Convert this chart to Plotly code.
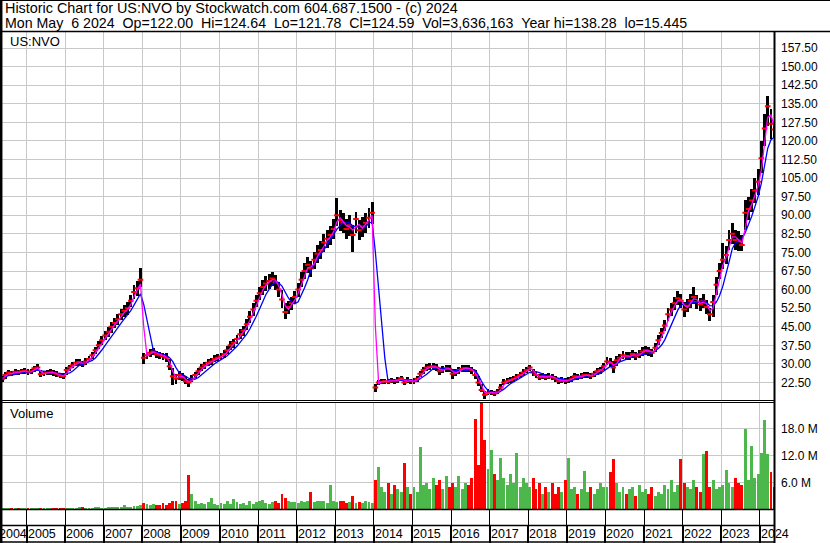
import plotly.graph_objects as go
import pandas as pd

# ---------------- data (monthly) ----------------
close = [
    24.0, 25.5, 26.5, 26.0, 26.8, 26.5, 27.0, 27.2,                      # 2004 May-Dec
    26.5, 27.0, 28.2, 28.5, 25.8, 26.2, 26.5, 26.8, 26.3, 26.0, 25.2, 25.0,  # 2005
    27.5, 28.5, 29.5, 30.5, 30.8, 29.8, 31.0, 32.0, 33.5, 35.5, 37.5, 39.5,  # 2006
    41.5, 43.0, 45.0, 46.5, 48.0, 50.0, 51.5, 52.5, 55.5, 59.0, 60.5, 64.0,  # 2007
    32.5, 33.5, 34.5, 35.0, 33.8, 33.5, 33.0, 32.5, 29.0, 25.0, 24.0, 25.5,  # 2008
    24.5, 23.0, 22.5, 24.0, 25.5, 27.0, 28.5, 29.5, 30.5, 31.0, 32.0, 32.5,  # 2009
    33.0, 34.0, 35.5, 37.5, 38.5, 40.0, 42.0, 43.5, 46.0, 49.0, 52.0, 55.5,  # 2010
    58.5, 61.0, 62.5, 63.5, 64.5, 63.0, 60.0, 56.0, 51.0, 53.0, 54.5, 57.0,  # 2011
    60.0, 64.0, 67.5, 70.0, 68.5, 72.0, 74.5, 76.0, 79.0, 80.5, 82.0, 84.5,  # 2012
    90.0, 88.0, 87.0, 84.5, 86.0, 82.0, 88.5, 84.0, 85.5, 87.0, 89.0, 91.0,  # 2013
    20.5, 22.5, 22.8, 23.0, 22.8, 23.3, 23.0, 23.5, 24.2, 22.5, 23.5, 23.0,  # 2014
    23.0, 24.0, 26.0, 27.5, 28.5, 28.8, 29.0, 28.5, 27.0, 27.8, 28.2, 28.0,  # 2015
    26.0, 26.5, 27.5, 28.0, 28.3, 28.0, 27.5, 25.5, 22.5, 19.5, 17.5, 18.5,  # 2016
    18.5, 18.0, 18.8, 20.5, 22.5, 23.0, 23.5, 24.0, 24.8, 25.5, 26.5, 27.5,  # 2017
    28.5, 26.5, 25.5, 24.5, 25.0, 24.5, 25.0, 24.5, 24.0, 23.0, 23.5, 23.0,  # 2018
    23.5, 24.0, 25.0, 24.5, 25.0, 25.5, 25.5, 25.0, 26.0, 27.0, 27.5, 29.0,  # 2019
    31.0, 30.5, 28.5, 31.5, 32.5, 33.5, 33.0, 33.0, 34.0, 33.0, 34.0, 35.0,  # 2020
    35.5, 35.0, 34.5, 36.5, 39.5, 42.5, 45.5, 50.0, 52.0, 54.5, 56.5, 55.5,  # 2021
    52.0, 53.5, 55.5, 57.0, 55.0, 54.0, 55.5, 53.0, 50.0, 55.0, 62.0, 67.5,  # 2022
    72.0, 74.0, 80.0, 82.5, 80.0, 79.5, 78.0, 91.0, 92.5, 96.0, 100.0, 103.5,  # 2023
    113.0, 125.0, 134.0, 127.0, 124.6,                                   # 2024 Jan-May
]

high = [
    25.0, 26.6, 27.6, 27.2, 27.8, 27.5, 28.0, 28.3,
    27.8, 28.0, 29.3, 29.8, 27.5, 27.2, 27.6, 27.8, 27.4, 27.0, 26.3, 26.4,
    28.6, 29.6, 30.6, 31.8, 32.0, 31.0, 32.2, 33.3, 34.9, 37.0, 39.1, 41.2,
    43.3, 44.9, 47.0, 48.6, 50.1, 52.2, 53.8, 55.0, 58.0, 61.8, 63.5, 68.8,
    34.5, 35.0, 36.2, 36.5, 35.3, 35.0, 34.6, 34.2, 32.0, 28.5, 26.0, 27.0,
    26.3, 25.0, 24.0, 25.5, 26.8, 28.3, 29.8, 30.8, 31.9, 32.4, 33.4, 34.0,
    34.5, 35.5, 37.1, 39.2, 40.2, 41.8, 43.9, 45.5, 48.1, 51.2, 54.4, 58.0,
    61.2, 63.8, 65.3, 66.4, 67.0, 65.8, 63.0, 60.0, 54.5, 55.5, 57.0, 59.6,
    62.8, 67.0, 70.6, 73.2, 71.6, 75.3, 77.9, 79.5, 82.6, 84.2, 85.8, 88.4,
    97.0, 92.0, 91.0, 88.4, 90.0, 86.0, 91.5, 88.0, 89.4, 91.0, 93.0, 95.5,
    22.0, 23.6, 23.9, 24.1, 23.9, 24.4, 24.1, 24.6, 25.2, 23.8, 24.6, 24.1,
    24.2, 25.2, 27.3, 28.9, 29.9, 30.2, 30.5, 30.0, 28.5, 29.2, 29.6, 29.4,
    27.8, 27.8, 28.9, 29.4, 29.7, 29.4, 28.9, 27.5, 25.0, 22.0, 19.0, 19.8,
    19.6, 19.2, 20.0, 21.8, 23.8, 24.2, 24.7, 25.2, 26.0, 26.8, 27.8, 28.8,
    29.6, 28.0, 26.8, 25.8, 26.3, 25.8, 26.3, 25.8, 25.2, 24.3, 24.7, 24.2,
    24.7, 25.2, 26.3, 25.8, 26.3, 26.8, 26.8, 26.3, 27.3, 28.4, 28.9, 30.5,
    32.6, 32.3, 31.0, 33.1, 34.1, 35.2, 34.7, 34.7, 35.7, 34.7, 35.7, 36.8,
    37.3, 36.8, 36.2, 38.3, 41.5, 44.6, 47.8, 52.5, 54.6, 57.2, 59.5, 58.3,
    55.0, 56.2, 58.3, 60.9, 57.8, 56.7, 58.3, 55.7, 52.5, 58.0, 65.0, 70.9,
    78.7, 77.7, 84.0, 86.8, 84.0, 83.5, 82.0, 96.0, 97.2, 100.8, 105.0, 108.7,
    120.0, 131.0, 138.3, 133.0, 126.5,
]

low = [
    22.8, 24.0, 25.3, 25.0, 25.6, 25.4, 25.9, 26.0,
    25.5, 25.9, 26.8, 27.2, 24.6, 25.1, 25.4, 25.7, 25.2, 24.8, 24.2, 24.0,
    25.6, 27.2, 28.3, 29.2, 29.3, 28.6, 29.6, 30.7, 32.1, 34.0, 35.9, 37.8,
    39.6, 41.0, 42.6, 44.4, 45.8, 47.6, 49.0, 49.8, 52.9, 56.2, 57.5, 61.0,
    30.0, 32.0, 32.8, 33.4, 32.3, 32.0, 31.4, 30.8, 27.5, 21.5, 21.8, 23.5,
    23.0, 21.8, 20.6, 22.5, 24.2, 25.6, 27.0, 28.1, 29.1, 29.6, 30.6, 31.0,
    31.5, 32.5, 33.9, 35.8, 36.6, 38.1, 40.0, 41.4, 43.8, 46.7, 49.5, 52.8,
    55.6, 58.0, 59.5, 60.4, 61.5, 60.0, 57.0, 52.5, 48.0, 50.0, 51.8, 54.2,
    57.0, 61.0, 64.2, 66.6, 65.2, 68.5, 70.9, 72.3, 75.1, 76.6, 78.0, 80.4,
    85.6, 83.7, 82.8, 80.4, 81.8, 75.0, 83.0, 80.0, 81.4, 82.8, 84.7, 86.6,
    18.5, 21.4, 21.7, 21.9, 21.7, 22.2, 21.9, 22.4, 23.0, 21.3, 22.4, 21.9,
    21.8, 22.8, 24.7, 26.1, 27.1, 27.4, 27.6, 27.0, 25.6, 26.4, 26.8, 26.6,
    24.0, 25.2, 26.1, 26.6, 26.9, 26.6, 26.1, 24.0, 21.0, 18.5, 16.0, 17.3,
    17.5, 17.2, 17.8, 19.4, 21.3, 21.8, 22.3, 22.8, 23.6, 24.2, 25.2, 26.2,
    27.0, 25.2, 24.2, 23.3, 23.8, 23.3, 23.8, 23.3, 22.8, 21.8, 22.3, 21.8,
    22.3, 22.8, 23.8, 23.3, 23.8, 24.2, 24.2, 23.8, 24.7, 25.7, 26.1, 27.6,
    29.5, 28.8, 26.5, 29.2, 30.9, 31.8, 31.4, 31.4, 32.3, 31.4, 32.3, 33.3,
    33.7, 33.3, 32.8, 34.7, 37.5, 40.4, 43.2, 47.5, 49.4, 51.8, 53.6, 52.7,
    49.0, 50.8, 52.7, 54.0, 52.2, 51.3, 52.7, 50.3, 47.5, 49.0, 58.0, 64.1,
    68.4, 70.3, 76.0, 78.4, 76.0, 75.5, 75.5, 84.0, 87.9, 91.2, 95.0, 98.3,
    107.0, 118.0, 126.0, 121.0, 121.8,
]

ma_fast = [
    24.0, 25.0, 26.0, 26.2, 26.4, 26.6, 26.8, 27.1,
    26.9, 26.8, 27.6, 28.3, 27.0, 26.0, 26.3, 26.6, 26.5, 26.1, 25.6, 25.1,
    26.2, 28.0, 29.0, 30.0, 30.6, 30.3, 30.4, 31.5, 32.7, 34.5, 36.5, 38.5,
    40.5, 42.3, 44.0, 45.8, 47.3, 49.0, 50.8, 52.0, 54.0, 57.2, 59.8, 62.3,
    45.0, 33.2, 34.0, 34.8, 34.4, 33.7, 33.3, 32.8, 30.8, 27.0, 24.5, 24.8,
    25.0, 23.8, 22.8, 23.2, 24.8, 26.2, 27.8, 29.0, 30.0, 30.8, 31.5, 32.2,
    32.8, 33.5, 34.8, 36.5, 38.0, 39.3, 41.0, 42.8, 44.8, 47.5, 50.5, 53.8,
    57.0, 59.8, 61.8, 63.0, 64.0, 63.8, 61.5, 58.0, 53.5, 52.0, 53.8, 55.8,
    58.5, 62.0, 65.8, 68.8, 69.2, 70.3, 73.3, 75.3, 77.5, 79.8, 81.3, 83.3,
    87.3, 89.0, 87.5, 85.8, 85.3, 84.0, 85.3, 86.3, 84.8, 86.3, 88.0, 90.0,
    45.0, 22.0, 22.7, 22.9, 22.9, 23.1, 23.2, 23.3, 23.8, 23.4, 23.0, 23.3,
    23.0, 23.5, 25.0, 26.8, 28.0, 28.7, 28.9, 28.8, 27.8, 27.4, 28.0, 28.1,
    27.0, 26.3, 27.0, 27.8, 28.2, 28.2, 27.8, 26.5, 24.0, 21.0, 18.5, 18.0,
    18.5, 18.3, 18.4, 19.6, 21.5, 22.8, 23.3, 23.8, 24.4, 25.2, 26.0, 27.0,
    28.0, 27.5, 26.0, 25.0, 24.8, 24.8, 24.8, 24.8, 24.3, 23.5, 23.3, 23.3,
    23.3, 23.8, 24.5, 24.8, 24.8, 25.3, 25.5, 25.3, 25.5, 26.5, 27.3, 28.3,
    30.0, 30.8, 29.5, 30.0, 32.0, 33.0, 33.3, 33.0, 33.5, 33.5, 33.5, 34.5,
    35.3, 35.3, 34.8, 35.5, 38.0, 41.0, 44.0, 47.8, 51.0, 53.3, 55.5, 56.0,
    53.8, 52.8, 54.5, 56.3, 56.0, 54.5, 54.8, 54.3, 51.5, 52.5, 58.5, 64.8,
    69.8, 73.0, 77.0, 81.3, 81.3, 79.8, 78.8, 84.5, 91.8, 94.3, 98.0, 101.8,
    108.3, 119.0, 129.5, 130.5, 125.8,
]

ma_slow = [
    24.0, 24.8, 25.3, 25.5, 25.8, 26.3, 26.6, 26.7,
    26.8, 26.8, 27.2, 27.5, 27.2, 27.1, 27.0, 26.8, 26.3, 26.4, 26.2, 25.9,
    26.0, 26.4, 27.1, 28.2, 29.4, 29.8, 30.3, 30.8, 31.4, 32.4, 33.9, 35.6,
    37.5, 39.4, 41.3, 43.1, 44.8, 46.5, 48.2, 49.7, 51.5, 53.7, 55.8, 58.3,
    54.0, 47.5, 41.0, 35.5, 34.8, 34.3, 33.8, 33.5, 32.5, 31.0, 28.5, 26.5,
    25.8, 25.0, 24.2, 23.8, 23.9, 24.5, 25.6, 26.9, 28.1, 29.3, 30.1, 30.9,
    31.6, 32.5, 33.3, 34.5, 35.7, 37.1, 38.7, 40.3, 42.0, 44.1, 46.5, 49.2,
    52.2, 55.2, 57.9, 60.1, 62.0, 63.0, 62.7, 61.4, 58.9, 56.6, 54.9, 54.3,
    55.1, 57.7, 60.6, 64.0, 68.0, 70.4, 72.5, 74.2, 76.0, 78.0, 80.0, 82.0,
    84.3, 85.8, 87.0, 86.8, 87.1, 85.5, 85.6, 85.0, 85.2, 85.4, 86.8, 87.4,
    75.0, 60.0, 46.0, 32.0, 23.0, 22.9, 23.0, 23.1, 23.4, 23.3, 23.3, 23.3,
    23.3, 23.4, 24.0, 24.8, 25.8, 26.9, 28.0, 28.5, 28.4, 28.2, 28.1, 27.9,
    27.5, 27.3, 27.3, 27.2, 27.3, 27.7, 27.9, 27.5, 25.5, 23.0, 20.8, 19.3,
    18.6, 18.3, 18.5, 19.0, 19.8, 20.9, 22.0, 22.7, 23.5, 24.1, 24.9, 25.7,
    26.6, 26.9, 26.9, 26.5, 26.0, 25.2, 24.9, 24.7, 24.6, 24.2, 24.0, 23.6,
    23.4, 23.4, 23.8, 24.1, 24.4, 24.8, 25.1, 25.3, 25.4, 25.8, 26.2, 27.0,
    28.1, 29.0, 29.3, 30.1, 30.8, 31.3, 31.8, 32.7, 33.2, 33.3, 33.4, 33.6,
    33.9, 34.3, 34.8, 35.3, 36.2, 37.6, 39.7, 42.8, 45.9, 48.9, 51.7, 53.7,
    54.3, 54.5, 54.6, 54.7, 54.6, 55.0, 55.5, 54.8, 53.5, 53.4, 54.9, 57.5,
    61.3, 66.1, 71.1, 76.5, 78.8, 80.0, 80.5, 83.0, 86.0, 89.5, 93.5, 97.5,
    103.0, 110.0, 117.0, 120.5, 121.5,
]

volume_m = [
    0.3, 0.25, 0.3, 0.2, 0.25, 0.3, 0.2, 0.3,
    0.3, 0.25, 0.3, 0.35, 0.3, 0.25, 0.3, 0.2, 0.25, 0.3, 0.35, 0.3,
    0.3, 0.35, 0.4, 0.3, 0.45, 0.5, 0.35, 0.4, 0.3, 0.45, 0.5, 0.4,
    0.4, 0.5, 0.45, 0.5, 0.6, 0.5, 0.9, 0.5, 0.6, 0.7, 0.8, 0.9,
    1.5, 1.2, 1.0, 1.3, 0.9, 1.1, 1.4, 1.0, 1.5, 2.0, 1.8, 1.3,
    1.5, 1.8, 7.7, 3.5, 2.0, 1.3, 1.5, 1.2, 1.6, 2.6, 1.3, 1.1,
    1.4, 1.2, 1.8, 1.3, 2.4, 1.6, 1.2, 1.5, 1.0, 1.8, 1.3, 1.6,
    1.8, 2.2, 1.5, 1.3, 1.6, 2.0, 1.5, 3.4, 2.5, 2.0, 1.7, 1.6,
    1.5, 2.0, 1.6, 1.8, 4.0, 1.7, 2.0, 2.0, 1.8, 1.5, 5.5, 2.0,
    1.6, 1.8, 2.0, 1.5, 1.7, 3.0, 1.5, 1.6, 1.4, 1.8, 1.6, 1.5,
    6.5, 9.4, 5.0, 4.0, 6.0, 3.5, 5.5, 4.5, 4.0, 10.5, 5.0, 3.5,
    5.0, 4.0, 13.9, 5.5, 6.0, 4.5, 7.0, 5.5, 6.5, 4.5, 7.5, 5.0,
    6.0, 5.0, 7.5, 4.5, 6.0, 5.5, 7.0, 20.3, 10.0, 24.0, 15.6, 9.0,
    13.4, 8.0, 6.5, 11.5, 7.0, 5.5, 8.0, 6.0, 12.6, 5.0, 7.0, 6.0,
    5.0, 7.0, 4.5, 6.0, 3.5, 5.0, 4.0, 6.0, 3.5, 5.0, 4.0, 6.5,
    11.5, 4.5, 5.0, 3.5, 4.5, 8.6, 4.0, 5.0, 3.5, 4.5, 6.0, 5.0,
    5.0, 8.3, 11.3, 6.0, 4.0, 5.0, 3.5, 4.5, 5.0, 3.0, 5.5, 4.0,
    4.5, 3.5, 5.0, 3.0, 4.0, 3.5, 5.5, 4.5, 6.5, 4.0, 5.5, 11.3,
    6.0, 5.0, 4.5, 6.5, 5.0, 4.0, 12.5, 13.0, 5.0, 6.5, 4.5, 5.0,
    5.5, 8.9, 6.0, 5.0, 7.0, 6.0, 5.5, 18.1, 6.5, 14.3, 7.0, 8.0,
    12.6, 20.0, 12.5, 8.3, 5.0,
]

year_labels = ["2004", "2005", "2006", "2007", "2008", "2009", "2010", "2011",
               "2012", "2013", "2014", "2015", "2016", "2017", "2018", "2019",
               "2020", "2021", "2022", "2023", "2024"]
price_ticks = [22.5, 30.0, 37.5, 45.0, 52.5, 60.0, 67.5, 75.0, 82.5, 90.0,
               97.5, 105.0, 112.5, 120.0, 127.5, 135.0, 142.5, 150.0, 157.5]
volume_ticks = [6, 12, 18]
volume_tick_labels = ["6.0 M", "12.0 M", "18.0 M"]

header_1 = "Historic Chart for US:NVO by Stockwatch.com 604.687.1500 - (c) 2024"
header_2 = ("Mon May  6 2024  Op=122.00  Hi=124.64  Lo=121.78  Cl=124.59  "
            "Vol=3,636,163  Year hi=138.28  lo=15.445")

n = len(close)
assert all(len(a) == n for a in (high, low, ma_fast, ma_slow, volume_m))

dates = pd.date_range("2004-05-01", periods=n, freq="MS") + pd.Timedelta(days=14)

# ---------------- geometry helpers ----------------
W, H = 830, 543
ML, MR, MT, MB = 2, 55, 32, 0
PW = W - ML - MR
PH = H - MT - MB


def px(x):
    return (x - ML) / PW


def py(y):
    return (H - MB - y) / PH


FONT = "Liberation Sans, Arial, sans-serif"
MONTH_MS = 30.44 * 24 * 3600 * 1000
GRID = "#C8C8C8"
GREEN = "#4CB84C"
RED = "#FF0000"

up = [True] + [close[i] >= close[i - 1] for i in range(1, n)]
vol_colors = [GREEN if u else RED for u in up]

fig = go.Figure()

# price range bars
fig.add_trace(go.Bar(
    x=dates, y=[h - l for h, l in zip(high, low)], base=low,
    width=0.9 * MONTH_MS, marker=dict(color="black", line=dict(width=0)),
    xaxis="x", yaxis="y", hoverinfo="skip", showlegend=False))
# close ticks
fig.add_trace(go.Scatter(
    x=dates, y=close, mode="markers",
    marker=dict(symbol="line-ew", size=4, line=dict(color=RED, width=2)),
    xaxis="x", yaxis="y", hoverinfo="skip", showlegend=False))
# slow MA (blue)
fig.add_trace(go.Scatter(
    x=dates, y=ma_slow, mode="lines", line=dict(color="#0000FF", width=1.3),
    xaxis="x", yaxis="y", hoverinfo="skip", showlegend=False))
# fast MA (magenta)
fig.add_trace(go.Scatter(
    x=dates, y=ma_fast, mode="lines", line=dict(color="#FF00FF", width=1.3),
    xaxis="x", yaxis="y", hoverinfo="skip", showlegend=False))
# volume
fig.add_trace(go.Bar(
    x=dates, y=volume_m, width=0.9 * MONTH_MS,
    marker=dict(color=vol_colors, line=dict(width=0)),
    xaxis="x2", yaxis="y2", hoverinfo="skip", showlegend=False))
# invisible anchors for the date-band strips
for ax in ("3", "4"):
    fig.add_trace(go.Scatter(
        x=[dates[0]], y=[0.5], mode="markers", marker=dict(opacity=0),
        xaxis="x" + ax, yaxis="y" + ax, hoverinfo="skip", showlegend=False))

x_range = ["2004-05-14", "2024-05-23"]
common_x = dict(type="date", tick0="2005-01-01", dtick="M12", showticklabels=False,
                ticks="", showline=False, zeroline=False, fixedrange=True)

fig.update_layout(
    width=W, height=H,
    margin=dict(l=ML, r=MR, t=MT, b=MB, pad=0),
    paper_bgcolor="white", plot_bgcolor="white",
    font=dict(family=FONT, size=12, color="black"),
    showlegend=False, bargap=0,
    xaxis=dict(domain=[0, 1], range=x_range, anchor="y", showgrid=True,
               gridcolor=GRID, gridwidth=1, **common_x),
    xaxis2=dict(domain=[0, 1], range=x_range, anchor="y2", matches="x",
                showgrid=True, gridcolor=GRID, gridwidth=1, **common_x),
    xaxis3=dict(domain=[0, 1], range=x_range, anchor="y3", matches="x",
                showgrid=True, gridcolor="black", gridwidth=1, **common_x),
    xaxis4=dict(domain=[0, 1], range=x_range, anchor="y4", matches="x",
                showgrid=True, gridcolor="black", gridwidth=1.5, **common_x),
    yaxis=dict(domain=[py(400.5), 1], range=[15.22, 164.0], anchor="x",
               side="right", tickvals=price_ticks, tickformat=".2f",
               showgrid=True, gridcolor=GRID, gridwidth=1, ticks="",
               showline=False, zeroline=False, fixedrange=True,
               tickfont=dict(family=FONT, size=12, color="black"),
               ticklabelstandoff=5),
    yaxis2=dict(domain=[py(509.5), py(403)], range=[0, 23.8], anchor="x2",
                side="right", tickvals=volume_ticks, ticktext=volume_tick_labels,
                showgrid=True, gridcolor=GRID, gridwidth=1, ticks="",
                showline=False, zeroline=False, fixedrange=True,
                tickfont=dict(family=FONT, size=12, color="black"),
                ticklabelstandoff=5),
    yaxis3=dict(domain=[py(525.5), py(509.5)], range=[0, 1], anchor="x3",
                visible=False, fixedrange=True),
    yaxis4=dict(domain=[0, py(525.5)], range=[0, 1], anchor="x4",
                visible=False, fixedrange=True),
)

# ---------------- frame lines ----------------
def hline(y, x0, x1, w=1.0):
    fig.add_shape(type="line", xref="paper", yref="paper",
                  x0=px(x0), x1=px(x1), y0=py(y), y1=py(y),
                  line=dict(color="black", width=w), layer="above")


def vline(x, y0, y1, w=1.0):
    fig.add_shape(type="line", xref="paper", yref="paper",
                  x0=px(x), x1=px(x), y0=py(y0), y1=py(y1),
                  line=dict(color="black", width=w), layer="above")


hline(0.5, 0, 830, 1)
hline(31.5, 0, 830, 1.5)
hline(400.5, 0, 775, 1)
hline(402.5, 0, 775, 1)
hline(509.5, 0, 775, 1.5)
hline(525.5, 0, 775, 1.5)
hline(542, 0, 775, 1.5)
vline(1.2, 0, 543, 2.5)
vline(774.5, 31, 543, 2)

# ---------------- texts ----------------
def label(text, x, y, size=13.0, anchor="left"):
    fig.add_annotation(text=text, xref="paper", yref="paper", x=px(x), y=py(y),
                       xanchor=anchor, yanchor="middle", showarrow=False,
                       font=dict(family=FONT, size=size, color="black"))


label(header_1, 3, 8.5, 14.4)
label(header_2.replace("  ", "\u00a0\u00a0"), 3, 23, 14.2)
label("US:NVO", 8, 41.5)
label("Volume", 8, 413.5)

for yl in year_labels:
    if yl == year_labels[0]:
        fig.add_annotation(text=yl, xref="x", yref="paper",
                           x=f"{int(yl) + 1}-01-01", y=py(534), xanchor="right",
                           yanchor="middle", showarrow=False, xshift=2,
                           font=dict(family=FONT, size=12.5, color="black"))
    else:
        fig.add_annotation(text=yl, xref="x", yref="paper",
                           x=f"{yl}-01-01", y=py(534), xanchor="left",
                           yanchor="middle", showarrow=False, xshift=-1,
                           font=dict(family=FONT, size=12.5, color="black"))

fig.write_html(
    "out.html",
    config={"displayModeBar": False},
    post_script="document.body.style.margin='0';document.body.style.overflow='hidden';",
)
